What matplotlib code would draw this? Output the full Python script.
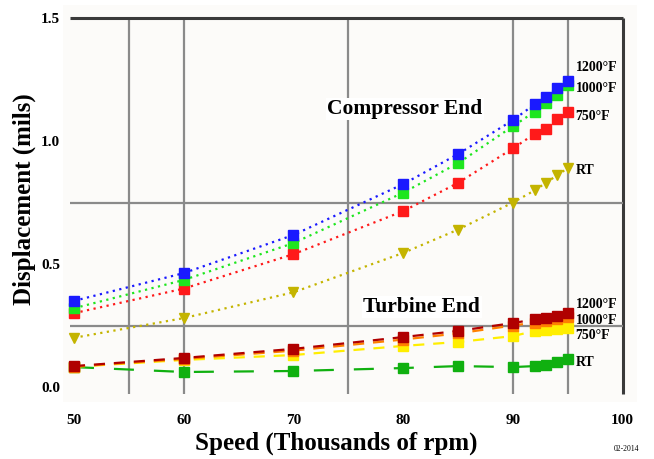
import matplotlib
matplotlib.use("Agg")
import matplotlib.pyplot as plt

# ---- data ----
speed = [50, 60, 70, 80, 85, 90, 92, 93, 94, 95]

comp_1200 = [0.35, 0.463, 0.618, 0.825, 0.947, 1.085, 1.15, 1.18, 1.215, 1.245]
comp_1000 = [0.32, 0.435, 0.585, 0.79, 0.91, 1.06, 1.12, 1.155, 1.187, 1.228]
comp_750 = [0.30, 0.40, 0.54, 0.715, 0.83, 0.97, 1.03, 1.05, 1.09, 1.12]
comp_rt = [0.20, 0.28, 0.385, 0.545, 0.64, 0.75, 0.80, 0.83, 0.86, 0.89]

turb_1200 = [0.085, 0.118, 0.155, 0.203, 0.228, 0.26, 0.275, 0.28, 0.29, 0.30]
turb_1000 = [0.083, 0.114, 0.148, 0.193, 0.218, 0.25, 0.262, 0.268, 0.276, 0.285]
turb_750 = [0.082, 0.11, 0.13, 0.167, 0.183, 0.207, 0.228, 0.232, 0.236, 0.24]
turb_rt = [0.081, 0.061, 0.065, 0.077, 0.085, 0.081, 0.085, 0.09, 0.10, 0.113]

series_labels = ["1200\u00b0F", "1000\u00b0F", "750\u00b0F", "RT"]
x_ticks = [50, 60, 70, 80, 90, 100]
y_ticks = [0.0, 0.5, 1.0, 1.5]
v_grid = [55, 60, 75, 90, 95, 100]
h_grid = [0.25, 0.75, 1.5]

# ---- figure ----
plt.rcParams['font.family'] = ['Liberation Serif', 'DejaVu Serif']
fig = plt.figure(figsize=(6.54, 4.59), dpi=100)
fig.patch.set_facecolor('white')
ax = fig.add_axes([63/654, 1-402/459, (637-63)/654, (402-5)/459])
ax.set_facecolor('#fcfbf9')
for s in ax.spines.values():
    s.set_visible(False)
ax.set_xlim(49.0, 101.3)
ax.set_ylim(-0.061, 1.553)

# grid lines
for v in v_grid:
    col = '#3a3a3a' if v == 100 else '#8a8a8a'
    lw = 2.2 if v == 100 else 1.6
    ax.plot([v, v], [-0.03, 1.5], color=col, lw=lw, zorder=1, solid_capstyle='butt')
for h in h_grid:
    col = '#3a3a3a' if h == 1.5 else '#8a8a8a'
    lw = 2.2 if h == 1.5 else 1.6
    ax.plot([49.6, 100], [h, h], color=col, lw=lw, zorder=1, solid_capstyle='butt')

ax.set_xticks(x_ticks)
ax.set_xticklabels([str(t) for t in x_ticks])
ax.set_yticks(y_ticks)
ax.set_yticklabels(["%.1f" % t for t in y_ticks])
ax.tick_params(axis='both', length=0, labelsize=11)
ax.tick_params(axis='x', pad=9)
ax.tick_params(axis='y', pad=2)
for lab in ax.get_xticklabels() + ax.get_yticklabels():
    lab.set_fontweight('bold')

dot = (0, (1, 2))
ms = 6.8
# compressor
ax.plot(speed, comp_rt, color='#c4b400', ls=dot, lw=1.6, marker='v', ms=ms, zorder=3)
ax.plot(speed, comp_750, color='#ff1a1a', ls=dot, lw=1.6, marker='s', ms=ms, zorder=3)
ax.plot(speed, comp_1000, color='#1ee61e', ls=dot, lw=1.6, marker='s', ms=ms, zorder=4)
ax.plot(speed, comp_1200, color='#1a1aff', ls=dot, lw=1.6, marker='s', ms=ms, zorder=5)
# turbine
ax.plot(speed, turb_rt, color='#10b010', ls=(0, (9, 9)), lw=1.6, marker='s', ms=ms, zorder=3)
ax.plot(speed, turb_750, color='#ffee00', ls=(0, (5, 4)), lw=1.6, marker='s', ms=ms, zorder=3)
ax.plot(speed, turb_1000, color='#ff8000', ls=(0, (5, 4)), lw=1.6, marker='s', ms=ms, zorder=4)
ax.plot(speed, turb_1200, color='#b00000', ls=(0, (5, 4)), lw=1.6, marker='s', ms=ms, zorder=5)

# series labels
comp_label_y = [1.297, 1.215, 1.10, 0.882]
turb_label_y = [0.337, 0.272, 0.211, 0.10]
for lab, yy in zip(series_labels, comp_label_y):
    ax.text(95.7, yy, lab, fontsize=10, fontweight='bold', va='center', ha='left', zorder=6)
for lab, yy in zip(series_labels, turb_label_y):
    ax.text(95.7, yy, lab, fontsize=10, fontweight='bold', va='center', ha='left', zorder=6)

ax.text(80.15, 1.13, "Compressor End", fontsize=15.5, fontweight='bold', ha='center', va='center',
        zorder=6, bbox=dict(facecolor='white', edgecolor='none', pad=1))
ax.text(81.7, 0.325, "Turbine End", fontsize=15.5, fontweight='bold', ha='center', va='center',
        zorder=6, bbox=dict(facecolor='white', edgecolor='none', pad=1))

fig.text(336/654, 1-443/459, "Speed (Thousands of rpm)", fontsize=18, fontweight='bold',
         ha='center', va='center')
fig.text(24/654, 1-199/459, "Displacement (mils)", fontsize=18, fontweight='bold',
         ha='center', va='center', rotation=90)
fig.text(627/654, 1-449/459, "02-2014", fontsize=5.5, ha='center', va='center')

fig.savefig("out.png", dpi=100, facecolor='white')
